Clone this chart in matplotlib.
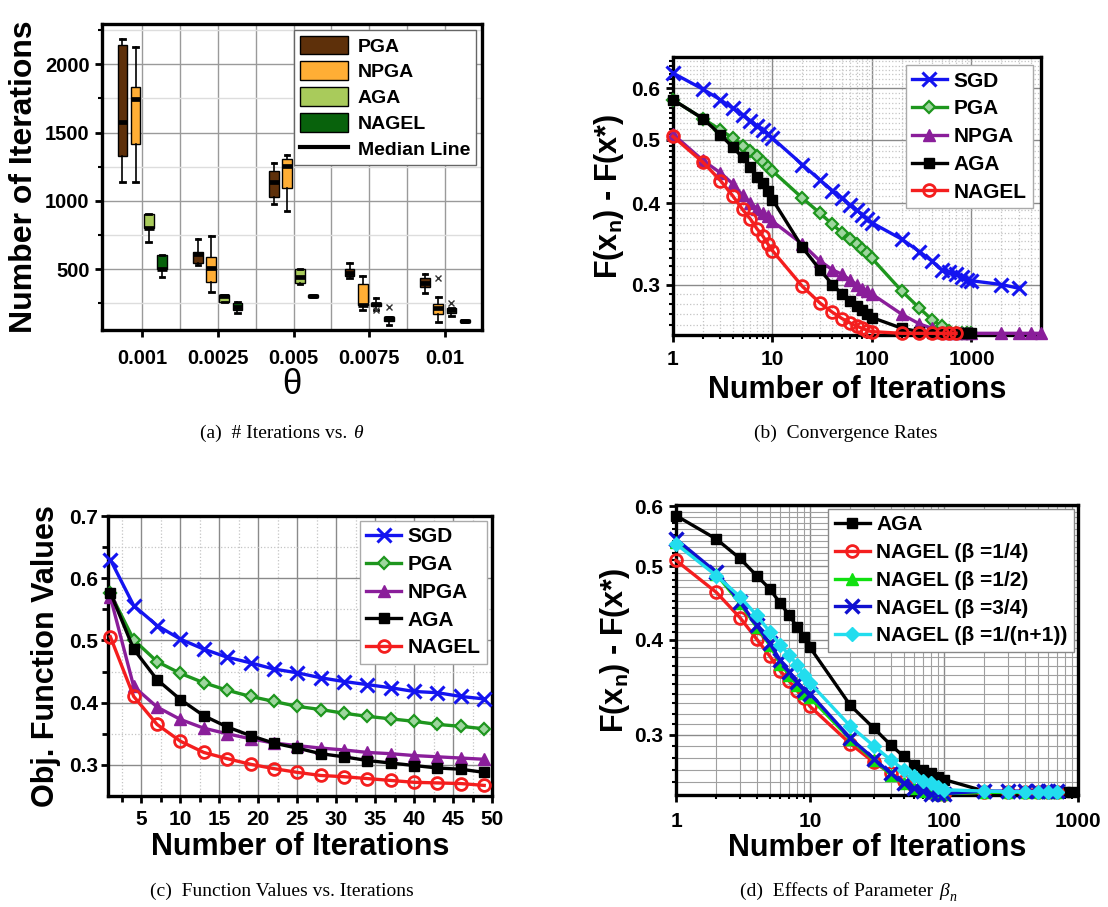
import numpy as np
import matplotlib
matplotlib.use('Agg')
import matplotlib.pyplot as plt
from matplotlib.ticker import FixedLocator, NullFormatter, FuncFormatter, LogLocator, MultipleLocator
from matplotlib.patches import Patch
from matplotlib.lines import Line2D

plt.rcParams['font.family'] = ['Liberation Sans', 'DejaVu Sans']
plt.rcParams['font.weight'] = 'bold'
plt.rcParams['mathtext.fontset'] = 'custom'
plt.rcParams['mathtext.rm'] = 'Liberation Sans:bold'
plt.rcParams['mathtext.bf'] = 'Liberation Sans:bold'
plt.rcParams['mathtext.it'] = 'Liberation Sans:bold'

# ---------------- data: panel (a) ----------------
thetas = ['0.001', '0.0025', '0.005', '0.0075', '0.01']
box_methods = ['PGA', 'NPGA', 'AGA', 'NAGEL']
PGA_LO = [1140, 532, 978, 434, 324]
PGA_Q1 = [1330, 544, 1027, 451, 373]
PGA_MED = [1578, 610, 1141, 476, 402]
PGA_Q3 = [2141, 629, 1220, 500, 439]
PGA_HI = [2185, 720, 1276, 544, 463]
PGA_FL = [[], [], [], [], []]
NPGA_LO = [1140, 337, 927, 202, 117]
NPGA_Q1 = [1420, 407, 1098, 237, 173]
NPGA_MED = [1749, 512, 1259, 237, 215]
NPGA_Q3 = [1832, 593, 1305, 395, 246]
NPGA_HI = [2127, 744, 1334, 451, 295]
NPGA_FL = [[], [], [], [], [435]]
AGA_LO = [702, 263, 393, 202, 159]
AGA_Q1 = [800, 263, 402, 232, 178]
AGA_MED = [800, 305, 441, 244, 202]
AGA_Q3 = [902, 310, 500, 256, 215]
AGA_HI = [902, 310, 500, 288, 215]
AGA_FL = [[], [], [], [202], [253]]
NAGEL_LO = [446, 178, 300, 93, 112]
NAGEL_Q1 = [500, 202, 300, 124, 112]
NAGEL_MED = [500, 227, 305, 141, 122]
NAGEL_Q3 = [602, 251, 312, 149, 129]
NAGEL_HI = [602, 263, 312, 149, 129]
NAGEL_FL = [[], [], [], [224], []]

# ---------------- data: panel (b) ----------------
b_sgd_x = [1, 2, 3, 4, 5, 6, 7, 8, 9, 10, 20, 30, 40, 50, 60, 70, 80, 90, 100,
           200, 300, 400, 500, 600, 700, 800, 900, 1000, 2000, 3000]
b_sgd_y = [0.633, 0.598, 0.576, 0.559, 0.546, 0.535, 0.525, 0.518, 0.511, 0.503,
           0.458, 0.434, 0.418, 0.407, 0.397, 0.390, 0.384, 0.378, 0.373,
           0.352, 0.337, 0.326, 0.316, 0.313, 0.311, 0.308, 0.305, 0.304, 0.300, 0.296]
b_pga_x = [1, 2, 3, 4, 5, 6, 7, 8, 9, 10, 20, 30, 40, 50, 60, 70, 80, 90, 100,
           200, 300, 400, 500, 600, 700, 800, 900, 1000]
b_pga_y = [0.576, 0.539, 0.518, 0.503, 0.490, 0.480, 0.472, 0.463, 0.455, 0.448,
           0.407, 0.386, 0.371, 0.360, 0.352, 0.346, 0.340, 0.335, 0.329,
           0.293, 0.276, 0.265, 0.259, 0.255, 0.2525, 0.2525, 0.2525, 0.2525]
b_npga_x = [1, 2, 3, 4, 5, 6, 7, 8, 9, 10, 20, 30, 40, 50, 60, 70, 80, 90, 100,
            200, 300, 400, 500, 600, 700, 800, 900, 1000, 2000, 3000, 4000, 5000]
b_npga_y = [0.510, 0.465, 0.445, 0.428, 0.411, 0.400, 0.392, 0.386, 0.382, 0.375,
            0.346, 0.326, 0.316, 0.311, 0.305, 0.300, 0.295, 0.293, 0.290,
            0.270, 0.261, 0.257, 0.254, 0.2525, 0.2525, 0.2525, 0.2525, 0.2525,
            0.2525, 0.2525, 0.2525, 0.2525]
b_aga_x = [1, 2, 3, 4, 5, 6, 7, 8, 9, 10, 20, 30, 40, 50, 60, 70, 80, 90, 100,
           200, 300, 400, 500, 600, 700, 800, 900, 1000]
b_aga_y = [0.576, 0.539, 0.509, 0.487, 0.470, 0.455, 0.439, 0.429, 0.417, 0.405,
           0.342, 0.316, 0.300, 0.290, 0.283, 0.278, 0.274, 0.270, 0.267,
           0.257, 0.254, 0.2525, 0.2525, 0.2525, 0.2525, 0.2525, 0.2525, 0.2525]
b_nagel_x = [1, 2, 3, 4, 5, 6, 7, 8, 9, 10, 20, 30, 40, 50, 60, 70, 80, 90, 100,
             200, 300, 400, 500, 600, 700]
b_nagel_y = [0.506, 0.462, 0.433, 0.410, 0.391, 0.378, 0.365, 0.356, 0.346, 0.338,
             0.298, 0.281, 0.272, 0.266, 0.262, 0.259, 0.257, 0.255, 0.254,
             0.2525, 0.2525, 0.2525, 0.2525, 0.2525, 0.2525]

# ---------------- data: panel (c) ----------------
c_x = [1, 4, 7, 10, 13, 16, 19, 22, 25, 28, 31, 34, 37, 40, 43, 46, 49]
c_sgd = [0.630, 0.556, 0.524, 0.502, 0.486, 0.473, 0.464, 0.454, 0.448, 0.440,
         0.434, 0.429, 0.424, 0.418, 0.416, 0.410, 0.406]
c_pga = [0.576, 0.501, 0.466, 0.447, 0.432, 0.420, 0.410, 0.402, 0.394, 0.389,
         0.383, 0.378, 0.374, 0.370, 0.365, 0.362, 0.358]
c_npga = [0.570, 0.426, 0.393, 0.373, 0.359, 0.350, 0.342, 0.335, 0.331, 0.327,
          0.324, 0.320, 0.318, 0.315, 0.313, 0.311, 0.309]
c_aga = [0.577, 0.486, 0.437, 0.405, 0.379, 0.361, 0.347, 0.335, 0.327, 0.318,
         0.313, 0.307, 0.303, 0.299, 0.295, 0.293, 0.288]
c_nagel = [0.506, 0.410, 0.365, 0.338, 0.320, 0.310, 0.301, 0.294, 0.288, 0.283,
           0.281, 0.278, 0.275, 0.272, 0.271, 0.270, 0.267]

# ---------------- data: panel (d) ----------------
d_aga_x = [1, 2, 3, 4, 5, 6, 7, 8, 9, 10, 20, 30, 40, 50, 60, 70, 80, 90, 100,
           200, 300, 400, 500, 600, 700, 800, 900]
d_aga_y = [0.583, 0.543, 0.512, 0.486, 0.467, 0.447, 0.431, 0.416, 0.403, 0.391,
           0.328, 0.306, 0.291, 0.281, 0.274, 0.270, 0.267, 0.264, 0.262,
           0.253, 0.252, 0.252, 0.252, 0.252, 0.252, 0.252, 0.252]
d_x = [1, 2, 3, 4, 5, 6, 7, 8, 9, 10, 20, 30, 40, 50, 60, 70, 80, 90, 100,
       200, 300, 400, 500, 600, 700]
d_b14 = [0.509, 0.462, 0.428, 0.401, 0.381, 0.364, 0.353, 0.343, 0.335, 0.327,
         0.292, 0.276, 0.267, 0.261, 0.257, 0.254, 0.252, 0.251, 0.251,
         0.252, 0.252, 0.252, 0.252, 0.252, 0.252]
d_b12 = [0.538, 0.488, 0.447, 0.416, 0.394, 0.372, 0.360, 0.349, 0.341, 0.336,
         0.296, 0.278, 0.266, 0.259, 0.255, 0.253, 0.252, 0.251, 0.251,
         0.252, 0.252, 0.252, 0.252, 0.252, 0.252]
d_b34 = [0.543, 0.491, 0.449, 0.418, 0.396, 0.376, 0.363, 0.352, 0.344, 0.340,
         0.297, 0.279, 0.267, 0.259, 0.255, 0.253, 0.251, 0.251, 0.251,
         0.253, 0.253, 0.253, 0.253, 0.253, 0.253]
d_bn = [0.535, 0.486, 0.456, 0.431, 0.410, 0.394, 0.382, 0.371, 0.360, 0.351,
        0.308, 0.290, 0.278, 0.270, 0.265, 0.261, 0.259, 0.256, 0.254,
        0.253, 0.2525, 0.2525, 0.2525, 0.2525, 0.2525]

# ---------------- figure ----------------
W, H = 1108, 907
fig = plt.figure(figsize=(W / 100, H / 100), dpi=100)


def rect(l, t, r, b):
    return [l / W, 1 - b / H, (r - l) / W, (b - t) / H]


def style_spines(ax, lw=2.4):
    for s in ax.spines.values():
        s.set_linewidth(lw)
        s.set_color('black')


LBL = 22
TICK = 15

# ====== (a) ======
ax_a = ax = fig.add_axes(rect(102, 24, 482, 330))
box_colors = ['#5E300A', '#FFAE35', '#A9CB5B', '#08620C']
stats_all = [
    (PGA_LO, PGA_Q1, PGA_MED, PGA_Q3, PGA_HI, PGA_FL),
    (NPGA_LO, NPGA_Q1, NPGA_MED, NPGA_Q3, NPGA_HI, NPGA_FL),
    (AGA_LO, AGA_Q1, AGA_MED, AGA_Q3, AGA_HI, AGA_FL),
    (NAGEL_LO, NAGEL_Q1, NAGEL_MED, NAGEL_Q3, NAGEL_HI, NAGEL_FL),
]
offsets = [-0.26, -0.087, 0.087, 0.26]
base = np.arange(1, len(thetas) + 1)
for k, (lo, q1, med, q3, hi, fl) in enumerate(stats_all):
    st = [dict(whislo=lo[i], q1=q1[i], med=med[i], q3=q3[i], whishi=hi[i], fliers=fl[i])
          for i in range(len(thetas))]
    ax.bxp(st, positions=base + offsets[k], widths=0.13, patch_artist=True,
           showfliers=True, capwidths=0.06,
           boxprops=dict(facecolor=box_colors[k], edgecolor='black', linewidth=1.0),
           medianprops=dict(color='black', linewidth=3.4),
           whiskerprops=dict(color='black', linewidth=1.2),
           capprops=dict(color='black', linewidth=2.0),
           flierprops=dict(marker='x', markersize=5, markeredgecolor='#333333', markeredgewidth=1.0),
           zorder=3)
ax.set_xlim(0.47, 5.49)
ax.set_ylim(56, 2295)
ax.set_xticks(base)
ax.set_xticklabels(thetas)
ax.xaxis.set_minor_locator(FixedLocator(base[:-1] + 0.5))
ax.yaxis.set_major_locator(MultipleLocator(500))
ax.yaxis.set_minor_locator(MultipleLocator(250))
ax.grid(True, which='major', color='#9a9a9a', linewidth=1.0, zorder=0)
ax.grid(True, which='minor', axis='x', color='#9a9a9a', linewidth=1.0, zorder=0)
ax.grid(True, which='minor', axis='y', color='#dddddd', linewidth=1.0, zorder=0)
ax.set_axisbelow(True)
ax.tick_params(axis='both', which='major', labelsize=14.5, width=2, length=5, direction='out')
ax.tick_params(axis='x', which='major', pad=9)
ax.tick_params(axis='y', which='major', pad=4)
ax.tick_params(axis='x', which='minor', length=0)
ax.tick_params(axis='y', which='minor', width=1.5, length=3)
ax.set_ylabel('Number of Iterations', fontsize=23, fontweight='bold', labelpad=4)
ax.set_xlabel('θ', fontsize=25, fontweight='normal', labelpad=0)
style_spines(ax)
handles = [Patch(facecolor=c, edgecolor='black', linewidth=1.0) for c in box_colors]
handles.append(Line2D([0], [0], color='black', linewidth=3))
ax.legend(handles, box_methods + ['Median Line'], loc='upper right',
          frameon=True, fancybox=False, edgecolor='#666666', framealpha=1,
          borderaxespad=0.3, handlelength=2.5, handleheight=1.1, labelspacing=0.3,
          borderpad=0.3, handletextpad=0.5, prop=dict(weight='bold', size=14))


def line_styles():
    return {
        'SGD': dict(color='#1414F0', marker='x', markersize=10, markeredgewidth=2.2),
        'PGA': dict(color='#1E961E', marker='D', markersize=6.5, markerfacecolor='#9ED69E',
                    markeredgewidth=1.6),
        'NPGA': dict(color='#8A1E9A', marker='^', markersize=9, markeredgewidth=1),
        'AGA': dict(color='black', marker='s', markersize=6.5),
        'NAGEL': dict(color='#F41E1E', marker='o', markersize=8.5, markerfacecolor='none',
                      markeredgewidth=2.0),
    }


LEG = dict(loc='upper right', frameon=True, fancybox=False, framealpha=1,
           handlelength=1.7, labelspacing=0.42, borderpad=0.3,
           handletextpad=0.3, prop=dict(weight='bold', size=15))

# ====== (b) ======
ax = fig.add_axes(rect(673, 57, 1041, 335))
sty = line_styles()
series_b = [('SGD', b_sgd_x, b_sgd_y), ('PGA', b_pga_x, b_pga_y),
            ('NPGA', b_npga_x, b_npga_y), ('AGA', b_aga_x, b_aga_y),
            ('NAGEL', b_nagel_x, b_nagel_y)]
for name, xs, ys in series_b:
    ax.plot(xs, ys, linewidth=2.4, label=name, **sty[name], clip_on=False, zorder=4)
ax.set_xscale('log')
ax.set_yscale('log')
ax.set_xlim(1, 5000)
ax.set_ylim(0.251, 0.67)
ax.xaxis.set_major_locator(FixedLocator([1, 10, 100, 1000]))
ax.xaxis.set_major_formatter(FuncFormatter(lambda v, p: '%d' % v))
ax.xaxis.set_minor_locator(LogLocator(base=10, subs=np.arange(2, 10)))
ax.xaxis.set_minor_formatter(NullFormatter())
ax.yaxis.set_major_locator(FixedLocator([0.3, 0.4, 0.5, 0.6]))
ax.yaxis.set_major_formatter(FuncFormatter(lambda v, p: '%.1f' % v))
ax.yaxis.set_minor_locator(FixedLocator(np.round(np.arange(0.26, 0.67, 0.01), 2)))
ax.yaxis.set_minor_formatter(NullFormatter())
ax.grid(True, which='major', color='#8a8a8a', linewidth=1.0, zorder=0)
ax.grid(True, which='minor', color='#c4c4c4', linewidth=0.9, linestyle=':', zorder=0)
ax.tick_params(axis='both', which='major', labelsize=TICK, width=2, length=5, direction='out')
ax.tick_params(axis='both', which='minor', width=1.5, length=3, direction='out')
ax.tick_params(axis='x', which='major', pad=6)
ax.tick_params(axis='y', which='major', pad=4)
ax.set_xlabel('Number of Iterations', fontsize=LBL, fontweight='bold', labelpad=4)
ax.set_ylabel('F(x$_\\mathbf{n}$) - F(x*)', fontsize=LBL, fontweight='bold', labelpad=4)
style_spines(ax)
ax.legend(edgecolor='#aaaaaa', borderaxespad=0.4, **LEG)

# ====== (c) ======
ax = fig.add_axes(rect(108, 516, 492, 796))
series_c = [('SGD', c_sgd), ('PGA', c_pga), ('NPGA', c_npga), ('AGA', c_aga), ('NAGEL', c_nagel)]
for name, ys in series_c:
    ax.plot(c_x, ys, linewidth=2.4, label=name, **sty[name], clip_on=False, zorder=4)
ax.set_xlim(0.7, 50)
ax.set_ylim(0.25, 0.7)
ax.xaxis.set_major_locator(FixedLocator(np.arange(5, 51, 5)))
ax.xaxis.set_minor_locator(FixedLocator(np.arange(2.5, 50, 5)))
ax.yaxis.set_major_locator(FixedLocator([0.3, 0.4, 0.5, 0.6, 0.7]))
ax.yaxis.set_major_formatter(FuncFormatter(lambda v, p: '%.1f' % v))
ax.yaxis.set_minor_locator(FixedLocator([0.35, 0.45, 0.55, 0.65]))
ax.grid(True, which='major', color='#8a8a8a', linewidth=1.0, zorder=0)
ax.grid(True, which='minor', color='#c4c4c4', linewidth=0.9, linestyle=':', zorder=0)
ax.tick_params(axis='both', which='major', labelsize=TICK, width=2, length=5, direction='out')
ax.tick_params(axis='both', which='minor', width=2, length=4, direction='out')
ax.tick_params(axis='x', which='major', pad=5)
ax.tick_params(axis='y', which='major', pad=2)
ax.set_xlabel('Number of Iterations', fontsize=LBL, fontweight='bold', labelpad=2)
ax.set_ylabel('Obj. Function Values', fontsize=LBL, fontweight='bold', labelpad=6)
style_spines(ax)
ax.legend(edgecolor='#aaaaaa', borderaxespad=0.25, **LEG)

# ====== (d) ======
ax = fig.add_axes(rect(676, 505, 1078, 795))
d_styles = [
    ('AGA', d_aga_x, d_aga_y, dict(color='black', marker='s', markersize=6.5)),
    ('NAGEL (β =1/4)', d_x, d_b14, dict(color='#F41E1E', marker='o', markersize=8.5,
                                         markerfacecolor='none', markeredgewidth=2.0)),
    ('NAGEL (β =1/2)', d_x, d_b12, dict(color='#10E010', marker='^', markersize=8.5)),
    ('NAGEL (β =3/4)', d_x, d_b34, dict(color='#1010D0', marker='x', markersize=10,
                                         markeredgewidth=2.4)),
    ('NAGEL (β =1/(n+1))', d_x, d_bn, dict(color='#22DDEE', marker='D', markersize=7)),
]
for name, xs, ys, st in d_styles:
    ax.plot(xs, ys, linewidth=2.4, label=name, **st, clip_on=False, zorder=4)
ax.set_xscale('log')
ax.set_yscale('log')
ax.set_xlim(1, 1000)
ax.set_ylim(0.25, 0.602)
ax.xaxis.set_major_locator(FixedLocator([1, 10, 100, 1000]))
ax.xaxis.set_major_formatter(FuncFormatter(lambda v, p: '%d' % v))
ax.xaxis.set_minor_locator(LogLocator(base=10, subs=np.arange(2, 10)))
ax.xaxis.set_minor_formatter(NullFormatter())
ax.yaxis.set_major_locator(FixedLocator([0.3, 0.4, 0.5, 0.6]))
ax.yaxis.set_major_formatter(FuncFormatter(lambda v, p: '%.1f' % v))
ax.yaxis.set_minor_locator(FixedLocator(np.round(np.arange(0.26, 0.60, 0.01), 2)))
ax.yaxis.set_minor_formatter(NullFormatter())
ax.grid(True, which='major', color='#8a8a8a', linewidth=1.0, zorder=0)
ax.grid(True, which='minor', color='#a0a0a0', linewidth=0.8, zorder=0)
ax.tick_params(axis='both', which='major', labelsize=TICK, width=2, length=5, direction='out')
ax.tick_params(axis='both', which='minor', width=1.5, length=3, direction='out')
ax.tick_params(axis='x', which='major', pad=7)
ax.tick_params(axis='y', which='major', pad=4)
ax.set_xlabel('Number of Iterations', fontsize=LBL, fontweight='bold', labelpad=2)
ax.set_ylabel('F(x$_\\mathbf{n}$) - F(x*)', fontsize=LBL, fontweight='bold', labelpad=2)
style_spines(ax)
ax.legend(edgecolor='#888888', borderaxespad=0.2, **LEG)

# ====== captions (serif, plain text + italic Greek symbol) ======
cap = dict(fontfamily='Liberation Serif', fontweight='normal', fontsize=14,
           va='bottom')
capit = dict(fontfamily='Liberation Serif', fontweight='normal', fontstyle='italic',
             fontsize=14, va='bottom', ha='left')


def caption(xc, yc, text, sym=None, sub=None, shift=0):
    t = fig.text((xc - shift) / W, 1 - yc / H, text, ha='center', **cap)
    if sym is not None:
        s = ax_a.annotate(sym, xy=(1, 0), xycoords=t, xytext=(1, 0),
                          textcoords='offset points', annotation_clip=False, **capit)
        if sub is not None:
            ax_a.annotate(sub, xy=(1, 0), xycoords=s, xytext=(0, -3),
                          textcoords='offset points', annotation_clip=False,
                          fontfamily='Liberation Serif', fontstyle='italic',
                          fontweight='normal', fontsize=10, va='bottom', ha='left')


caption(281, 442, '(a)  # Iterations vs. ', 'θ', shift=5)
caption(846, 442, '(b)  Convergence Rates')
caption(282, 900, '(c)  Function Values vs. Iterations')
caption(847, 900, '(d)  Effects of Parameter ', 'β', 'n', shift=8)

fig.savefig('out.png', dpi=100)
